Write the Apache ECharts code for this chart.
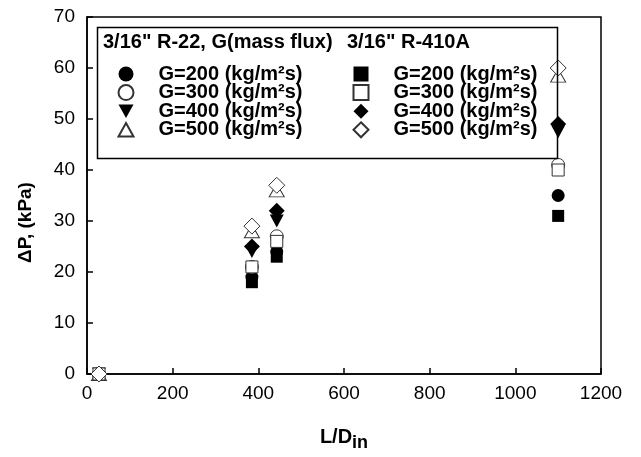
<!DOCTYPE html>
<html>
<head>
<meta charset="utf-8">
<script src="https://cdn.jsdelivr.net/npm/echarts@6/dist/echarts.min.js"></script>
<style>html,body{margin:0;padding:0;background:#fff;}#c{width:641px;height:457px;}</style>
</head>
<body>
<div id="c"></div>
<script>
// L/D_in positions of the measurement groups
const lengthRatios = [28, 385, 443, 1100];
// R-22 pressure drop (kPa)
const r22G200 = [0, 19, 24, 35];
const r22G300 = [0, 21, 27, 41];
const r22G400 = [0, 24, 30, 47.5];
const r22G500 = [0, 28, 36, 58.5];
// R-410A pressure drop (kPa)
const r410G200 = [0, 18, 23, 31];
const r410G300 = [0, 21, 26, 40];
const r410G400 = [0, 25, 32, 49];
const r410G500 = [0, 29, 37, 60];
const xTicks = [0, 200, 400, 600, 800, 1000, 1200];
const yTicks = [0, 10, 20, 30, 40, 50, 60, 70];
const fluxLabels = ['G=200 (kg/m²s)', 'G=300 (kg/m²s)', 'G=400 (kg/m²s)', 'G=500 (kg/m²s)'];
const r22Header = '3/16" R-22, G(mass flux)';
const r410Header = '3/16" R-410A';

const FONT = '"Liberation Sans", Arial, sans-serif';
const pts = v => lengthRatios.map((x, i) => [x, v[i]]);
const triDown = 'path://M0,0 L10,0 L5,9 Z';
const triUp = 'path://M5,0 L10,9 L0,9 Z';
const filled = {color: '#000', borderColor: '#000', borderWidth: 0, opacity: 1};
const hollow = {color: '#fff', borderColor: '#333', borderWidth: 1, opacity: 1};

const seriesDefs = [
  {name: 'a200', data: r22G200, symbol: 'circle', size: 13, style: filled},
  {name: 'a300', data: r22G300, symbol: 'circle', size: 13, style: hollow},
  {name: 'a400', data: r22G400, symbol: triDown, size: [14, 13], style: filled},
  {name: 'a500', data: r22G500, symbol: triUp, size: [15, 13], style: hollow},
  {name: 'b200', data: r410G200, symbol: 'rect', size: 12, style: filled},
  {name: 'b300', data: r410G300, symbol: 'rect', size: 12, style: hollow},
  {name: 'b400', data: r410G400, symbol: 'diamond', size: 16, style: filled},
  {name: 'b500', data: r410G500, symbol: 'diamond', size: 16, style: hollow}
];
const nameMap = {a200: fluxLabels[0], a300: fluxLabels[1], a400: fluxLabels[2], a500: fluxLabels[3],
                 b200: fluxLabels[0], b300: fluxLabels[1], b400: fluxLabels[2], b500: fluxLabels[3]};

const legendCommon = {
  orient: 'vertical', itemWidth: 15, itemHeight: 15, itemGap: -1.4,
  formatter: n => nameMap[n],
  textStyle: {fontFamily: FONT, fontWeight: 'bold', fontSize: 20, color: '#000', lineHeight: 18, padding: [0, 0, 0, 20]},
  selectedMode: false
};

const chart = echarts.init(document.getElementById('c'), null, {renderer: 'canvas'});
chart.setOption({
  animation: false,
  backgroundColor: '#fff',
  grid: {left: 87, right: 40, top: 17, bottom: 82, show: true, borderColor: '#000', borderWidth: 1.5},
  xAxis: {
    type: 'value', min: xTicks[0], max: xTicks[xTicks.length - 1], interval: 200,
    name: 'L/D{sub|in}', nameLocation: 'middle', nameGap: 48,
    nameTextStyle: {fontFamily: FONT, fontWeight: 'bold', fontSize: 20, color: '#000',
      rich: {sub: {fontFamily: FONT, fontWeight: 'bold', fontSize: 18, verticalAlign: 'bottom', padding: [12, 0, 0, 0]}}},
    axisLine: {lineStyle: {color: '#000', width: 1.5}},
    axisTick: {inside: true, length: 6, lineStyle: {color: '#000', width: 1.5}},
    axisLabel: {fontFamily: FONT, fontSize: 19, color: '#000', margin: 10, formatter: v => String(v)},
    splitLine: {show: false}
  },
  yAxis: {
    type: 'value', min: yTicks[0], max: yTicks[yTicks.length - 1], interval: 10,
    name: 'ΔP, (kPa)', nameLocation: 'middle', nameGap: 52,
    nameTextStyle: {fontFamily: FONT, fontWeight: 'bold', fontSize: 19, color: '#000', padding: [0, 54, 0, 0]},
    axisLine: {lineStyle: {color: '#000', width: 1.5}},
    axisTick: {inside: true, length: 6, lineStyle: {color: '#000', width: 1.5}},
    axisLabel: {fontFamily: FONT, fontSize: 19, color: '#000', margin: 12, formatter: v => String(v)},
    splitLine: {show: false}
  },
  legend: [
    Object.assign({}, legendCommon, {left: 112.5, top: 59, data: ['a200', 'a300', 'a400', 'a500']}),
    Object.assign({}, legendCommon, {left: 347.5, top: 59, data: ['b200', 'b300', 'b400', 'b500']})
  ],
  graphic: [
    {type: 'rect', left: 95, top: 25, shape: {width: 460, height: 131},
     style: {fill: 'none', stroke: '#000', lineWidth: 1.5}, z: 100},
    {type: 'text', left: 103, top: 32, style: {text: r22Header, font: 'bold 20px ' + FONT, fill: '#000'}, z: 100},
    {type: 'text', left: 347, top: 32, style: {text: r410Header, font: 'bold 20px ' + FONT, fill: '#000'}, z: 100}
  ],
  series: seriesDefs.map(d => ({
    type: 'scatter', name: d.name, data: pts(d.data), symbol: d.symbol, symbolSize: d.size,
    itemStyle: d.style, emphasis: {disabled: true}
  }))
});
</script>
</body>
</html>
